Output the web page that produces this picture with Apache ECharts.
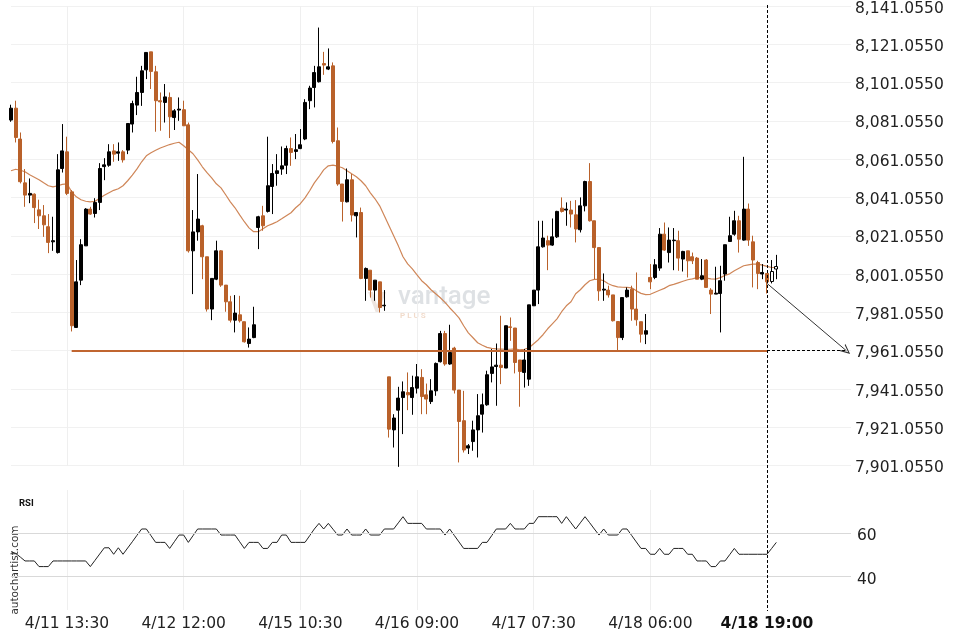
<!DOCTYPE html>
<html><head><meta charset="utf-8">
<script src="https://cdn.jsdelivr.net/npm/echarts@6/dist/echarts.min.js"></script>
<style>html,body{margin:0;padding:0;background:#fff}#c{width:960px;height:640px}</style>
</head><body><div id="c"></div>
<script>
// ---- data ----
const opens = [8081.5,8087.7,8071.6,8048.7,8042.3,8042.8,8034.6,8031.5,8025.8,8017.9,8012.3,8056.2,8064.9,8044.0,7973.2,7997.9,8015.8,8035.0,8032.7,8038.5,8057.2,8057.9,8065.4,8064.2,8064.9,8065.8,8079.4,8089.3,8095.9,8107.7,8117.1,8106.7,8091.6,8090.7,8093.3,8082.8,8086.7,8086.9,8079.0,8013.2,8023.1,8026.3,8010.1,7982.8,7998.4,8013.2,7995.3,7986.6,7977.0,7979.8,7976.2,7964.8,7967.9,8025.4,8031.5,8033.8,8046.8,8053.6,8055.9,8057.9,8066.6,8065.1,8066.6,8071.6,8091.6,8098.5,8101.5,8111.0,8108.1,8109.8,8070.7,8048.1,8038.8,8050.3,8031.5,8033.2,7998.8,8003.1,7992.7,7997.0,7984.5,7947.4,7919.7,7930.0,7936.6,7939.2,7936.6,7941.5,7947.1,7938.0,7934.5,7940.1,7955.3,7970.0,7954.1,7962.4,7940.5,7924.5,7910.2,7913.6,7919.7,7927.9,7932.8,7949.2,7952.8,7953.5,7952.0,7973.5,7972.9,7956.2,7949.7,7946.2,7984.5,7992.7,8015.3,8018.5,8016.2,8020.5,8035.5,8034.5,8034.5,8032.0,8024.2,8036.7,8049.4,8028.9,8014.9,7992.7,7992.7,7990.2,7976.3,7967.9,7989.2,7993.2,7982.8,7976.2,7969.7,7999.3,7999.3,8004.2,8021.9,8012.3,8018.5,8018.5,8008.9,8013.2,8010.1,8009.4,7998.4,8008.4,7992.7,7990.6,7990.9,8001.1,8018.1,8021.9,8028.9,8018.8,8035.0,8017.9,8007.1,8001.1,8001.4,7997.2,8003.7];
const closes = [8087.7,8072.4,8049.3,8042.3,8043.2,8035.8,8031.5,8026.8,8017.6,8018.5,8055.5,8065.4,8043.2,7974.1,7997.0,8016.4,8035.0,8032.4,8038.5,8056.2,8058.1,8064.9,8063.7,8064.9,8060.7,8079.7,8090.1,8095.9,8107.2,8116.8,8106.9,8091.6,8091.0,8093.6,8083.2,8086.3,8087.2,8078.5,8013.2,8023.1,8029.8,8010.1,7982.8,7998.8,8013.2,7995.3,7986.6,7977.0,7980.7,7976.7,7965.7,7967.1,7974.6,8031.0,8026.3,8047.2,8053.6,8055.0,8057.6,8066.6,8064.6,8066.0,8068.6,8090.7,8098.2,8106.3,8109.3,8110.2,8109.3,8070.3,8048.1,8039.0,8050.3,8031.9,8033.2,7998.8,8004.0,7992.7,7997.9,7983.6,7984.8,7920.1,7925.9,7936.3,7939.6,7938.0,7941.8,7947.4,7937.1,7935.8,7940.1,7954.4,7970.0,7954.1,7960.1,7940.5,7924.1,7909.2,7911.4,7919.7,7927.1,7932.8,7948.5,7952.6,7953.5,7952.3,7974.1,7973.2,7954.9,7950.2,7956.2,7985.0,7992.7,8015.3,8019.9,8016.2,8020.5,8033.8,8033.8,8035.0,8032.4,8024.6,8036.7,8049.4,8028.9,8014.9,7992.3,7993.2,7990.2,7976.7,7967.9,7988.8,7992.7,7982.8,7977.2,7969.7,7971.5,7997.0,8005.9,8021.9,8013.6,8018.8,8018.8,8009.4,8012.9,8008.0,8008.0,7998.4,8000.2,7994.1,7990.6,7991.1,7997.6,8016.4,8021.1,8028.9,8019.3,8035.0,8018.8,8008.4,8001.4,8001.9,7997.0,8002.4,8005.0];
const lows = [8080.6,8069.8,8048.4,8036.2,8038.1,8027.7,8024.6,8020.5,8012.0,8013.2,8011.8,8054.1,8042.3,7971.1,7972.9,7995.3,8015.8,8032.0,8030.6,8034.5,8050.1,8057.1,8059.7,8060.2,8059.3,8063.7,8075.0,8084.1,8088.9,8102.9,8097.7,8075.4,8075.9,8080.2,8072.1,8076.3,8081.1,8078.5,8012.3,7990.6,8018.5,7998.4,7981.5,7977.0,7997.9,7994.4,7981.4,7975.8,7970.6,7975.8,7965.3,7962.7,7967.6,8014.1,8023.7,8033.2,8032.4,8047.2,8052.9,8053.3,8057.6,8061.1,8066.3,8071.0,8087.2,8088.1,8101.1,8105.1,8107.6,8069.3,8047.2,8028.5,8038.5,8028.5,8020.2,7998.4,7987.1,7988.8,7987.1,7981.0,7981.9,7915.7,7910.5,7900.4,7917.5,7930.0,7927.6,7938.7,7927.9,7927.9,7933.2,7937.5,7954.9,7953.2,7953.7,7938.7,7902.7,7907.9,7907.1,7908.8,7905.3,7918.3,7932.3,7944.5,7932.3,7943.6,7952.0,7966.2,7949.2,7931.8,7941.8,7942.7,7984.5,7985.4,8014.9,8003.1,8015.8,8019.9,8033.2,8026.3,8025.4,8017.6,8022.8,8033.8,8028.5,7998.4,7987.1,7987.1,7988.8,7976.3,7961.0,7966.6,7988.8,7976.7,7974.1,7965.3,7964.5,7993.2,7998.4,8002.8,8013.2,8007.1,8003.1,8002.8,8002.4,7999.3,8006.3,7998.4,7997.9,7994.1,7980.2,7990.6,7970.6,7997.6,8018.1,8021.1,8012.3,8018.5,8015.8,7994.1,7993.2,7998.4,7990.9,7996.2,7998.4];
const highs = [8089.5,8091.6,8075.0,8055.9,8051.0,8043.2,8039.9,8037.1,8032.4,8031.0,8063.7,8079.4,8072.8,8044.9,8008.4,8019.3,8035.5,8036.2,8040.7,8059.0,8061.6,8068.9,8068.9,8069.8,8065.8,8079.7,8091.6,8104.1,8109.8,8116.8,8117.1,8109.8,8095.9,8100.3,8095.9,8087.2,8093.3,8091.6,8080.2,8034.5,8053.3,8026.8,8010.1,7998.8,8018.5,8013.6,7995.3,7989.7,7990.1,7989.7,7976.2,7973.2,7984.0,8031.5,8036.7,8072.8,8058.5,8063.7,8067.7,8068.1,8072.4,8074.2,8076.8,8092.4,8099.4,8109.8,8129.8,8117.1,8118.9,8111.6,8077.6,8048.1,8056.2,8053.3,8033.2,8035.8,8004.5,8003.1,7997.9,7997.0,7992.7,7947.4,7927.9,7942.2,7945.0,7949.7,7948.0,7954.1,7951.4,7943.9,7946.2,7954.9,7971.4,7971.4,7974.6,7963.1,7940.5,7940.1,7912.3,7924.5,7938.4,7938.7,7950.6,7961.9,7964.8,7979.3,7974.1,7978.4,7972.9,7956.2,7961.9,7985.0,7992.7,8028.9,8028.9,8021.1,8030.1,8034.1,8041.1,8038.5,8039.3,8039.7,8041.1,8049.8,8059.0,8028.9,8014.9,8001.4,7995.0,7990.2,7976.3,7988.8,7994.1,7995.0,8001.9,7976.2,7980.2,8006.3,8008.9,8025.1,8028.0,8025.4,8025.1,8023.7,8013.2,8013.2,8012.3,8010.0,8008.9,8008.9,7993.7,8004.9,8005.4,8016.4,8031.0,8034.1,8031.5,8062.3,8037.9,8021.1,8008.0,8006.3,8001.4,8008.4,8011.1];
const maValues = [8055.0,8055.8,8055.3,8054.5,8052.9,8051.6,8050.3,8048.7,8047.2,8046.6,8047.2,8047.9,8048.2,8044.0,8041.4,8039.9,8039.1,8038.8,8039.1,8040.6,8042.2,8043.5,8044.8,8045.6,8047.2,8049.8,8052.7,8056.0,8059.7,8062.8,8064.4,8065.7,8066.9,8067.8,8068.7,8069.4,8069.9,8068.1,8066.0,8063.9,8060.7,8057.1,8054.0,8051.3,8048.2,8046.1,8042.5,8038.8,8035.7,8032.0,8028.4,8025.2,8023.2,8023.2,8024.7,8026.3,8027.3,8028.4,8029.9,8031.5,8033.1,8035.7,8037.8,8040.9,8044.6,8048.7,8051.9,8055.5,8057.6,8058.0,8057.4,8056.6,8055.0,8053.4,8051.9,8049.8,8047.2,8043.5,8040.4,8036.7,8031.5,8026.3,8021.1,8015.8,8010.1,8006.4,8003.8,8000.7,7997.6,7995.5,7992.9,7990.8,7988.7,7986.3,7983.5,7980.9,7978.2,7974.1,7970.4,7967.8,7965.2,7963.9,7962.8,7962.3,7962.0,7961.9,7961.8,7961.8,7962.0,7961.5,7961.8,7962.6,7964.7,7966.8,7969.4,7972.5,7975.1,7977.7,7981.4,7984.5,7986.6,7990.8,7992.9,7995.5,7997.6,7998.3,7998.3,7997.6,7996.0,7995.0,7994.4,7994.2,7994.1,7993.9,7992.3,7991.0,7990.3,7990.5,7991.6,7992.6,7993.6,7995.0,7995.7,7996.5,7997.3,7998.1,7998.6,7999.2,7999.2,7999.0,7998.6,7998.4,7999.2,8000.4,8001.2,8002.8,8004.1,8005.4,8005.9,8006.3,8006.3,8005.7,8005.1,8004.5,8004.5];
const rsiValues = [51.5,50.7,49,47.2,47.2,47.2,44.6,44.6,44.6,47.2,47.2,47.2,47.2,47.2,47.2,47.2,47.2,44.6,47.5,50.4,53.3,53.3,50.3,53.3,50.3,53.2,56.1,59.1,62,62,58.9,55.8,55.8,55.8,53,56.1,59.2,59.2,55.8,58.9,62,62,62,62,62,59.2,59.2,59.2,59.2,56.1,53,55.8,55.8,55.8,53,53,55.8,55.8,59.2,59.2,55.8,55.8,55.8,55.8,58.9,62,64.6,62,64.6,61.9,59.2,59.2,62,59.2,59.2,59.2,62,59.2,59.2,59.2,62,62,62,64.85,67.7,64.6,64.6,64.6,64.6,62,62,62,62,59.2,62,59,56,53,53,53,53,55.8,55.8,58.9,62,62,62,64.6,62,62,62,64.6,64.6,67.7,67.7,67.7,67.7,67.7,64.6,67.7,64.85,62,64.85,67.7,64.9,62,59.2,62,59.2,59.2,59.2,62,62,59,56,53,53,50.3,50.3,53,50.3,50.3,53,53,53,50.3,50.3,47.2,47.2,47.2,44.6,44.6,47.2,47.2,50.1,53,50.3,50.3,50.3,50.3,50.3,50.3,50.3,53,55.8];
const tickIndex = [12,37,62,87,112,137,162];
const tickLabels = ['4/11 13:30','4/12 12:00','4/15 10:30','4/16 09:00','4/17 07:30','4/18 06:00','4/18 19:00'];
const yTickLabels = ['7,901.0550','7,921.0550','7,941.0550','7,961.0550','7,981.0550','8,001.0550','8,021.0550','8,041.0550','8,061.0550','8,081.0550','8,101.0550','8,121.0550','8,141.0550'];
const yMin = 7901.055, yMax = 8141.055, yStep = 20;
const rsiLevels = [60, 40];
const rsiLevelLabels = ['60', '40'];
const targetLevel = 7961.055;
const levelStart = 13, patternEnd = 162, arrowEnd = 179, arrowStartPrice = 7996.2;
const slotCount = 181;
const firstHollow = 163;

// ---- chart ----
const FONT = 'DejaVu Sans';
const ORANGE = '#b9612a';
const cats = Array.from({length: slotCount}, (_, i) => String(i));
const candleData = opens.map((o, i) => {
  const v = [o, closes[i], lows[i], highs[i]];
  return i >= firstHollow ? {value: v, itemStyle: {color: '#fff', color0: '#fff', borderColor: '#000', borderColor0: '#000'}} : v;
});
const splitFn = (idx) => tickIndex.indexOf(idx) >= 0 && idx !== patternEnd;
const ARROW = 'path://M0,10 L5,0 L10,10 L8.7,10 L5,2.6 L1.3,10 Z';

const chart = echarts.init(document.getElementById('c'), null, {renderer: 'canvas'});
const option = {
  animation: false,
  backgroundColor: '#fff',
  textStyle: {fontFamily: FONT},
  grid: [
    {left: 11, right: 109, top: 6, height: 459.6},
    {left: 11, right: 109, top: 490, height: 120}
  ],
  xAxis: [
    {type: 'category', data: cats, gridIndex: 0, boundaryGap: false,
     axisLine: {show: false}, axisTick: {show: false}, axisLabel: {show: false},
     splitLine: {show: true, interval: splitFn, lineStyle: {color: '#efefef', width: 1}}},
    {type: 'category', data: cats, gridIndex: 1, boundaryGap: false,
     axisLine: {show: false}, axisTick: {show: false},
     splitLine: {show: true, interval: splitFn, lineStyle: {color: '#efefef', width: 1}},
     axisLabel: {show: true, interval: (idx) => tickIndex.indexOf(idx) >= 0, margin: 6,
       fontFamily: FONT, fontSize: 15.5, color: '#222',
       formatter: (val) => {
         const k = tickIndex.indexOf(Number(val));
         if (k < 0) return '';
         return tickIndex[k] === patternEnd ? '{b|' + tickLabels[k] + '}' : tickLabels[k];
       },
       rich: {b: {fontWeight: 'bold', fontFamily: FONT, fontSize: 15.5, color: '#111'}}
     }}
  ],
  yAxis: [
    {type: 'value', gridIndex: 0, position: 'right', min: yMin, max: yMax, interval: yStep, scale: true,
     axisLine: {show: false}, axisTick: {show: false},
     splitLine: {show: true, lineStyle: {color: '#f1f1f1', width: 1}},
     axisLabel: {show: true, margin: 4, color: '#222',
       formatter: (v) => {
         const t = yTickLabels[Math.round((v - yMin) / yStep)];
         return t ? '{a|' + t + '}' : '';
       },
       rich: {a: {fontFamily: FONT, fontSize: 15.5, color: '#222', padding: [5, 0, 0, 0]}}}},
    {type: 'value', gridIndex: 1, position: 'right', min: 24.5, max: 80.05,
     axisLine: {show: false}, axisTick: {show: false}, axisLabel: {show: false}, splitLine: {show: false}}
  ],
  series: [
    {type: 'line', name: 'MA', xAxisIndex: 0, yAxisIndex: 0, data: maValues, symbol: 'none',
     lineStyle: {color: '#cf8658', width: 1.2}, z: 2, silent: true},
    {type: 'candlestick', name: 'price', xAxisIndex: 0, yAxisIndex: 0, data: candleData, barWidth: 3.8, clip: false, z: 3,
     itemStyle: {color: '#000', color0: ORANGE, borderColor: '#000', borderColor0: ORANGE, borderWidth: 1},
     markLine: {silent: true, symbol: ['none', 'none'], animation: false,
       data: [
         [{coord: [levelStart, targetLevel], symbol: 'none', lineStyle: {color: '#c06530', width: 2, type: 'solid'}},
          {coord: [patternEnd, targetLevel], symbol: 'none'}],
         [{coord: [patternEnd, targetLevel], symbol: 'none', lineStyle: {color: '#000', width: 1, type: [3, 2]}},
          {coord: [arrowEnd, targetLevel], symbol: 'none'}],
         [{coord: [patternEnd, arrowStartPrice], symbol: 'none', lineStyle: {color: '#333', width: 1, type: 'solid'}},
          {coord: [arrowEnd, targetLevel], symbol: ARROW, symbolSize: [9, 10]}]
       ],
       label: {show: false}}
    },
    {type: 'line', name: 'RSI', xAxisIndex: 1, yAxisIndex: 1, data: rsiValues, symbol: 'none',
     lineStyle: {color: '#222', width: 1}, z: 3, silent: true,
     markLine: {silent: true, symbol: ['none', 'none'], animation: false,
       lineStyle: {color: '#d9d9d9', width: 1, type: 'solid'},
       label: {show: false},
       data: rsiLevels.map(v => ({yAxis: v}))}
    }
  ],
  graphic: [
    {type: 'text', left: 19, top: 499, style: {text: 'RSI', font: 'bold 9.5px Roboto', fill: '#111'}},
    {type: 'text', x: 15, y: 570, rotation: Math.PI / 2,
     style: {text: 'autochartist.com', font: '10.5px "DejaVu Sans"', fill: '#333', align: 'center', verticalAlign: 'middle'}},
    {type: 'polygon', shape: {points: [[368, 292], [373, 292], [377, 305], [381, 292], [386, 292], [378, 313], [376, 313]]},
     style: {fill: 'rgba(215,195,185,0.45)'}, z: 0, silent: true},
    {type: 'text', x: 398, y: 310, style: {text: 'vantage', font: '500 26px Roboto', fill: 'rgba(200,205,210,0.6)', verticalAlign: 'bottom'}, z: 0, silent: true},
    {type: 'text', x: 400, y: 312, style: {text: 'P L U S', font: 'bold 8px Roboto', fill: 'rgba(230,190,160,0.55)'}, z: 0, silent: true}
  ]
};
chart.setOption(option);
const vx = Math.round(chart.convertToPixel({xAxisIndex: 0}, patternEnd)) + 0.5;
const rightEdge = chart.convertToPixel({xAxisIndex: 1}, slotCount - 1);
const extra = [
  {type: 'line', shape: {x1: vx, y1: 5, x2: vx, y2: 611}, style: {stroke: '#000', lineWidth: 1, lineDash: [3, 2]}, z: 10, silent: true}
];
rsiLevels.forEach((lv, k) => {
  const py = chart.convertToPixel({yAxisIndex: 1}, lv);
  extra.push({type: 'text', x: rightEdge + 6, y: py + 3, silent: true,
    style: {text: rsiLevelLabels[k], font: '15.5px "DejaVu Sans"', fill: '#222', align: 'left', verticalAlign: 'middle'}});
});
chart.setOption({graphic: option.graphic.concat(extra)});
</script>
</body></html>
